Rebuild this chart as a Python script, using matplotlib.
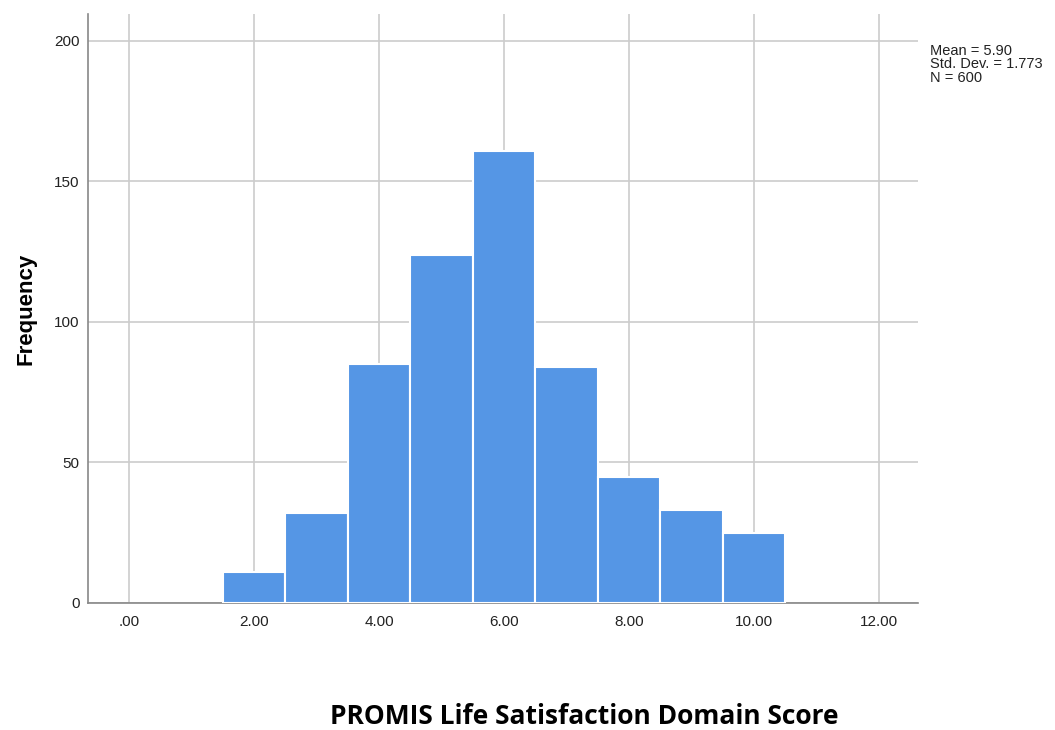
import numpy as np
import matplotlib
matplotlib.use("Agg")
import matplotlib.pyplot as plt

# histogram bins (score centres) and counts
bin_centers = [2, 3, 4, 5, 6, 7, 8, 9, 10]
counts = [11, 32, 85, 124, 161, 84, 45, 33, 25]
x_ticks = [0, 2, 4, 6, 8, 10, 12]
x_tick_labels = [".00", "2.00", "4.00", "6.00", "8.00", "10.00", "12.00"]
y_ticks = [0, 50, 100, 150, 200]
stats_text = "Mean = 5.90\nStd. Dev. = 1.773\nN = 600"

fig = plt.figure(figsize=(10.55, 7.3), dpi=100)
ax = fig.add_axes([88 / 1055, 127 / 730, 830 / 1055, 589 / 730])

ax.bar(bin_centers, counts, width=1.0, color="#5596e5",
       edgecolor="white", linewidth=1.5, zorder=3)

ax.set_xlim(-0.656, 12.624)
ax.set_ylim(0, 209.6)
ax.set_xticks(x_ticks)
ax.set_xticklabels(x_tick_labels)
ax.set_yticks(y_ticks)

ax.grid(True, color="#cccccc", linewidth=1.2, zorder=0)
for s in ["top", "right"]:
    ax.spines[s].set_visible(False)
for s in ["left", "bottom"]:
    ax.spines[s].set_color("#888888")
    ax.spines[s].set_linewidth(1.2)

ax.tick_params(length=0, labelsize=11, colors="#222222", pad=9)
for lab in ax.get_xticklabels() + ax.get_yticklabels():
    lab.set_family("Liberation Sans")
ax.tick_params(axis="y", pad=6)

ax.set_ylabel("Frequency", fontsize=16, fontweight="bold",
              family="Liberation Sans", labelpad=13)

fig.text(930 / 1055, 1 - 44 / 730, stats_text, fontsize=10.5,
         family="Liberation Sans", va="top", ha="left",
         linespacing=0.95, color="#222222")

fig.text(584 / 1055, 1 - 717 / 730, "PROMIS Life Satisfaction Domain Score",
         fontsize=19, fontweight="bold", family="Open Sans",
         ha="center", va="center")

fig.savefig("out.png", dpi=100)
